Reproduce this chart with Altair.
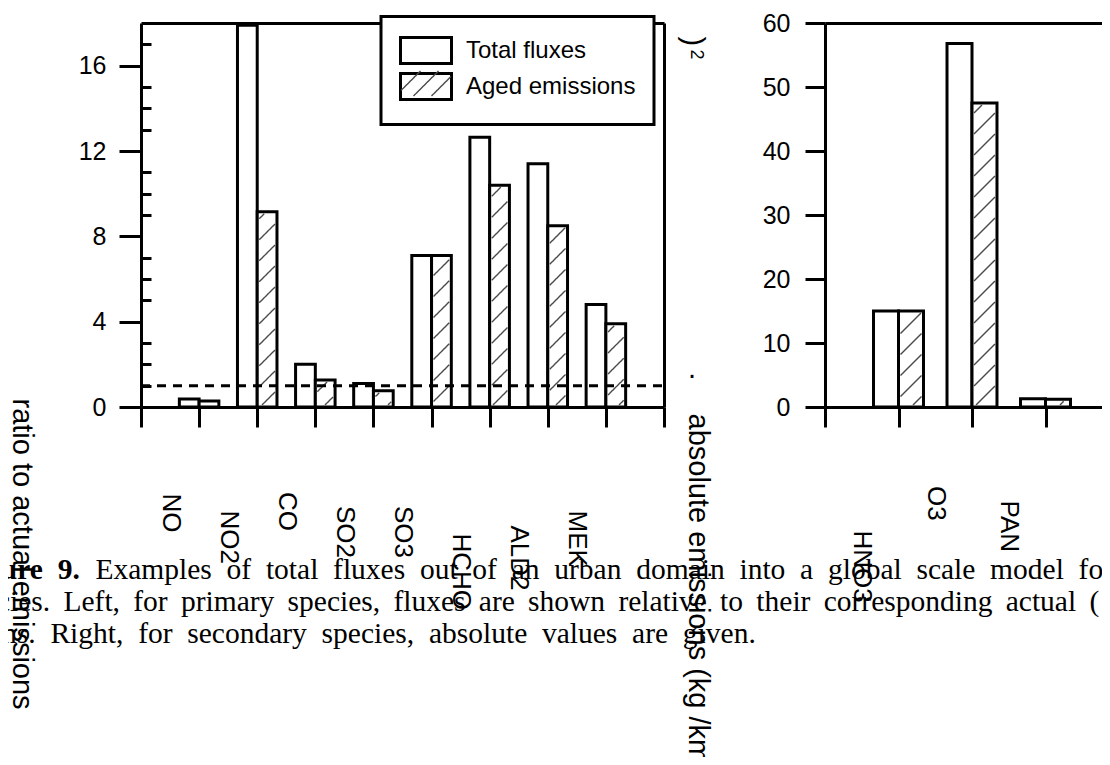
import math
import json
import pandas as pd
import altair as alt

# ---------------- data ----------------
SERIES = ["Total fluxes", "Aged emissions"]
LEFT_SPECIES = ["NO", "NO2", "CO", "SO2", "SO3", "HCHO", "ALD2", "MEK"]
LEFT_TOTAL = [0.38, 17.9, 2.0, 1.1, 7.1, 12.65, 11.4, 4.8]
LEFT_AGED = [0.28, 9.15, 1.27, 0.76, 7.1, 10.4, 8.5, 3.9]
RIGHT_SPECIES = ["HNO3", "O3", "PAN"]
RIGHT_TOTAL = [15.0, 56.8, 1.3]
RIGHT_AGED = [15.0, 47.5, 1.2]
REFERENCE_RATIO = [1.0]
LEFT_Y_TICKS = [0, 4, 8, 12, 16]
LEFT_Y_MINOR = [1, 2, 3, 5, 6, 7, 9, 10, 11, 13, 14, 15, 17]
RIGHT_Y_TICKS = [0, 10, 20, 30, 40, 50, 60]
LEFT_Y_MAX = 18
RIGHT_Y_MAX = 60
Y_TITLE_LEFT = "ratio to actual emissions"
Y_TITLE_RIGHT = "absolute emissions (kg /km"
CAPTION_LEAD = "Figure 9."
CAPTION_1 = "Examples of total fluxes out of an urban domain into a global scale model for"
CAPTION_2 = "species. Left, for primary species, fluxes are shown relative to their corresponding actual ("
CAPTION_3 = "fresh) emissions. Right, for secondary species, absolute values are given."

# ---------------- layout / style ----------------
SANS = "Liberation Sans"
SERIF = "Liberation Serif"
W, H = 1094, 749
Y_PX = [399, 15]
LEFT_PX = [133, 656]
RIGHT_PX = [817, 1111]
BAR_W = 0.34
HATCH_STEP = 21
HATCH_COLOR = "#4a4a4a"
HATCH_KEYS = [s + " hatch" for s in SERIES]
LEFT_LABEL_DROP = [86, 103, 84.5, 98.5, 98.5, 126, 118, 103]
RIGHT_LABEL_DROP = [123, 78.5, 93]
CAP_SIZE = 29.5
JUST_WIDE = " \u00a0"
JUST_NARROW = " \u2009"

left_dom_x = [0, len(LEFT_SPECIES) + 1]
right_dom_x = [0, len(RIGHT_SPECIES) + 1]
left_dom_y = [0, LEFT_Y_MAX]
right_dom_y = [0, RIGHT_Y_MAX]


def sc(dom, rng):
    return alt.Scale(domain=dom, range=rng, nice=False, zero=False)


def lin(dom, rng):
    d0, d1 = dom
    r0, r1 = rng
    f = lambda v: r0 + (v - d0) * (r1 - r0) / (d1 - d0)
    g = lambda p: d0 + (p - r0) * (d1 - d0) / (r1 - r0)
    return f, g


def bar_table(species, total, aged):
    rows = []
    for i, (sp, t, a) in enumerate(zip(species, total, aged), start=1):
        rows.append({"species": sp, "series": SERIES[0], "value": t, "x0": i - BAR_W, "x1": i})
        rows.append({"species": sp, "series": SERIES[1], "value": a, "x0": i, "x1": i + BAR_W})
    return pd.DataFrame(rows)


def hatch_table(bars, dom_x, px_x, dom_y, px_y):
    fx, gx = lin(dom_x, px_x)
    fy, gy = lin(dom_y, px_y)
    rows = []
    aged = bars[bars.series == SERIES[1]]
    for _, r in aged.iterrows():
        X0, X1 = fx(r.x0) + 2, fx(r.x1) - 2
        Yt, Yb = fy(r.value) + 2, fy(0) - 2
        if X1 - X0 < 1 or Yb - Yt < 1:
            continue
        c = math.ceil((X0 + Yt) / HATCH_STEP) * HATCH_STEP
        while c <= X1 + Yb:
            xa = max(X0, c - Yb)
            xb = min(X1, c - Yt)
            if xb - xa > 0.5:
                rows.append({"key": HATCH_KEYS[1], "hx1": gx(xa), "hy1": gy(c - xa),
                             "hx2": gx(xb), "hy2": gy(c - xb)})
            c += HATCH_STEP
    return pd.DataFrame(rows)


left_bars = bar_table(LEFT_SPECIES, LEFT_TOTAL, LEFT_AGED)
right_bars = bar_table(RIGHT_SPECIES, RIGHT_TOTAL, RIGHT_AGED)
left_hatch = hatch_table(left_bars, left_dom_x, LEFT_PX, left_dom_y, Y_PX)
right_hatch = hatch_table(right_bars, right_dom_x, RIGHT_PX, right_dom_y, Y_PX)

lxs, lys = sc(left_dom_x, LEFT_PX), sc(left_dom_y, Y_PX)
rxs, rys = sc(right_dom_x, RIGHT_PX), sc(right_dom_y, Y_PX)

# legend symbol paths (unit = sqrt(size)/2 px)
RECT_PATH = "M-1.7586,-0.8966H1.7586V0.8966H-1.7586Z"


def hatch_path(unit=15.0, hw=25.0, hh=12.5, cs=(-18, 0, 18)):
    parts = []
    for c in cs:
        xa, xb = max(-hw, c - hh), min(hw, c + hh)
        parts.append("M%.4f,%.4fL%.4f,%.4f" % (xa / unit, (c - xa) / unit, xb / unit, (c - xb) / unit))
    ex, ey = 26.3 / unit, 13.8 / unit
    parts.append("M%.4f,%.4fL%.4f,%.4f" % (-ex, -ey, -ex, -ey))
    parts.append("M%.4f,%.4fL%.4f,%.4f" % (ex, ey, ex, ey))
    return "".join(parts)


LEG = dict(orient="none", legendX=373, legendY=8.5, title=None, padding=18, rowPadding=-5,
           symbolOffset=11, labelOffset=24, labelFontSize=24, labelFont=SANS,
           labelColor="black", labelLimit=400, direction="vertical")
leg_rect = alt.Legend(symbolType=RECT_PATH, symbolSize=841, symbolStrokeWidth=3,
                      symbolFillColor="white", symbolStrokeColor="black",
                      fillColor="white", strokeColor="black", zindex=1, **LEG)
leg_hatch = alt.Legend(symbolType=hatch_path(), symbolSize=900, symbolStrokeWidth=1.4,
                       symbolStrokeColor=HATCH_COLOR, labelOpacity=0, zindex=2,
                       labelExpr="'\u00a0'", **LEG)

AX = dict(grid=False, domainColor="black", tickColor="black", labelColor="black",
          titleColor="black", labelFont=SANS, titleFont=SANS, titleFontWeight="normal",
          domainWidth=3, tickWidth=3)


def title_only(orient, offset, title, tx, ty, size, angle, font=SANS, weight="normal", domain=False):
    return alt.Axis(orient=orient, offset=offset, domain=domain, ticks=False, labels=False,
                    grid=False, domainColor="black", domainWidth=3, title=title,
                    titleX=tx, titleY=ty, titleAngle=angle, titleAlign="left",
                    titleBaseline="alphabetic", titleFont=font, titleFontSize=size,
                    titleFontWeight=weight, titleColor="black", titleLimit=3000)


def label_axis(names, drops, title, tx, ty, font, weight):
    return alt.Axis(orient="bottom", offset=-350, values=[i + 0.5 for i in range(len(names))],
                    ticks=False, tickSize=0, domain=False, grid=False, labelAngle=90,
                    labelFontSize=26, labelFont=SANS, labelColor="black",
                    labelOverlap=False, labelFlush=False,
                    labelExpr="%s[floor(datum.value)]" % json.dumps(names),
                    labelPadding={"expr": "%s[floor(datum.value)]" % json.dumps(drops)},
                    title=title, titleX=tx, titleY=ty, titleAngle=0, titleAlign="left",
                    titleBaseline="alphabetic", titleFont=font, titleFontSize=CAP_SIZE,
                    titleFontWeight=weight, titleColor="black", titleLimit=3000)


line1 = JUST_WIDE.join(CAPTION_1.split(" "))
line2 = JUST_NARROW.join(CAPTION_2.split(" "))
line3 = JUST_WIDE.join(CAPTION_3.split(" "))
lead = CAPTION_LEAD.replace(" ", "\u00a0\u00a0")

# ---------------- left panel ----------------
l_bars = alt.Chart(left_bars).mark_rect(fill="white", strokeWidth=3).encode(
    x=alt.X("x0:Q", scale=lxs, axis=alt.Axis(orient="bottom", offset=-350, values=list(range(left_dom_x[1] + 1)),
                                             tickSize=20, labels=False, title=None, **AX)),
    x2="x1:Q",
    y=alt.Y("value:Q", scale=lys, axis=alt.Axis(orient="left", offset=-133, values=LEFT_Y_TICKS, tickSize=22,
                                                labelFontSize=25, labelPadding=13, title=Y_TITLE_LEFT,
                                                titleX=-129, titleY=390, titleAngle=90, titleAlign="left",
                                                titleBaseline="alphabetic", titleFontSize=29, titleLimit=1000, **AX)),
    y2=alt.Y2Datum(0),
    stroke=alt.Stroke("series:N", scale=alt.Scale(domain=SERIES, range=["black", "black"]), legend=leg_rect),
)

l_hatch = alt.Chart(left_hatch).mark_rule(color=HATCH_COLOR, strokeWidth=1.4).encode(
    x=alt.X("hx1:Q", scale=lxs, axis=label_axis(LEFT_SPECIES, LEFT_LABEL_DROP, lead, -48.6, 171, SERIF, "bold")),
    x2="hx2:Q",
    y=alt.Y("hy1:Q", scale=lys, axis=alt.Axis(orient="left", offset=-143, values=LEFT_Y_MINOR, tickSize=10,
                                              tickWidth=3, tickColor="black", domain=False, labels=False, grid=False,
                                              title=".", titleX=536.5, titleY=369, titleAngle=0, titleAlign="left",
                                              titleBaseline="alphabetic", titleFont=SANS, titleFontSize=29,
                                              titleFontWeight="normal", titleColor="black")),
    y2="hy2:Q",
    strokeDash=alt.StrokeDash("key:N", scale=alt.Scale(domain=HATCH_KEYS, range=[[0.01, 1000], [1, 0]]),
                              legend=leg_hatch),
)

l_dash = alt.Chart(pd.DataFrame({"level": REFERENCE_RATIO})).mark_rule(
    color="black", strokeWidth=3, strokeDash=[9, 7]).encode(
    x=alt.XDatum(left_dom_x[0], scale=lxs, axis=title_only("top", -15, line1, 87, 555, CAP_SIZE, 0, SERIF, domain=True)),
    x2=alt.X2Datum(left_dom_x[1]),
    y=alt.Y("level:Q", scale=lys, axis=alt.Axis(orient="right", offset=-438, domain=True, ticks=False, labels=False,
                                                grid=False, domainColor="black", domainWidth=3, title=None)),
)

# ---------------- right panel ----------------
r_total = alt.Chart(right_bars[right_bars.series == SERIES[0]]).mark_rect(
    fill="white", stroke="black", strokeWidth=3).encode(
    x=alt.X("x0:Q", scale=rxs, axis=alt.Axis(orient="bottom", offset=-350, values=list(range(right_dom_x[1] + 1)),
                                             tickSize=20, labels=False, title=None, **AX)),
    x2="x1:Q",
    y=alt.Y("value:Q", scale=rys, axis=alt.Axis(orient="left", offset=-817, values=RIGHT_Y_TICKS, tickSize=20,
                                                labelFontSize=25, labelPadding=15, title=Y_TITLE_RIGHT,
                                                titleX=-137, titleY=405, titleAngle=90, titleAlign="left",
                                                titleBaseline="alphabetic", titleFontSize=29, titleLimit=1000, **AX)),
    y2=alt.Y2Datum(0),
)

r_aged = alt.Chart(right_bars[right_bars.series == SERIES[1]]).mark_rect(
    fill="white", stroke="black", strokeWidth=3).encode(
    x=alt.X("x0:Q", scale=rxs, axis=title_only("top", -15, line3, -180.1, 619, CAP_SIZE, 0, SERIF, domain=True)),
    x2="x1:Q",
    y=alt.Y("value:Q", scale=rys, axis=title_only("left", 0, ")", 675, 28, 29, 90)),
    y2=alt.Y2Datum(0),
)

r_hatch = alt.Chart(right_hatch).mark_rule(color=HATCH_COLOR, strokeWidth=1.4).encode(
    x=alt.X("hx1:Q", scale=rxs, axis=label_axis(RIGHT_SPECIES, RIGHT_LABEL_DROP, line2, -50.9, 203, SERIF, "normal")),
    x2="hx2:Q",
    y=alt.Y("hy1:Q", scale=rys, axis=title_only("left", 0, "2", 682, 41, 18, 90)),
    y2="hy2:Q",
)

chart = alt.layer(l_bars, l_hatch, l_dash, r_total, r_aged, r_hatch).resolve_scale(
    x="independent", y="independent"
).resolve_axis(
    x="independent", y="independent"
).properties(
    width=W, height=H, autosize=alt.AutoSizeParams(type="none"), padding=0
).configure_view(stroke="transparent").configure_legend(strokeWidth=3)

chart.save("out.html", embed_options={"renderer": "svg", "actions": False})
